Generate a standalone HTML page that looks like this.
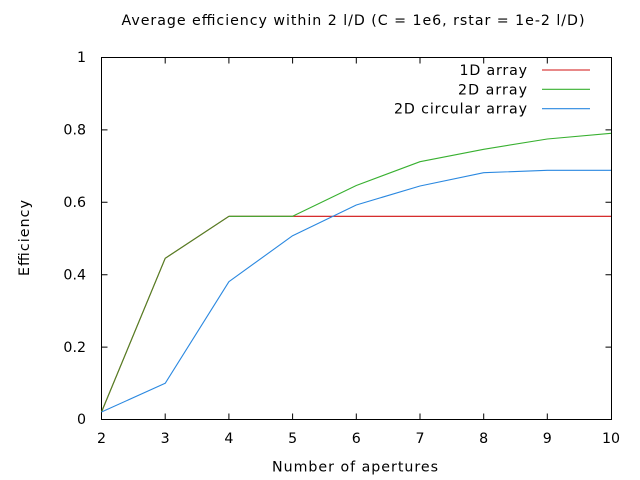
<!DOCTYPE html>
<html><head><meta charset="utf-8"><style>
html,body{margin:0;padding:0;background:#fff;}
svg{display:block;}
text{font-family:"DejaVu Sans","Liberation Sans",sans-serif;font-size:14.2px;fill:#000;}
</style></head><body>
<svg width="640" height="480" viewBox="0 0 640 480" xmlns="http://www.w3.org/2000/svg">
<rect width="640" height="480" fill="#fff"/>
<text x="353" y="25" text-anchor="middle" textLength="463" lengthAdjust="spacing">Average efficiency within 2 l/D (C = 1e6, rstar = 1e-2 l/D)</text>
<g stroke="#000" stroke-width="1" fill="none">
<rect x="101.5" y="57.5" width="510" height="362"/>
<path d="M101.5 419.5h6M611.5 419.5h-6M101.5 347.1h6M611.5 347.1h-6M101.5 274.7h6M611.5 274.7h-6M101.5 202.3h6M611.5 202.3h-6M101.5 129.9h6M611.5 129.9h-6M101.5 57.5h6M611.5 57.5h-6"/>
<path d="M165.2 419.5v-6M165.2 57.5v6M228.9 419.5v-6M228.9 57.5v6M292.6 419.5v-6M292.6 57.5v6M356.3 419.5v-6M356.3 57.5v6M420 419.5v-6M420 57.5v6M483.7 419.5v-6M483.7 57.5v6M547.3 419.5v-6M547.3 57.5v6"/>
</g>
<g text-anchor="end">
<text x="86" y="424">0</text>
<text x="86" y="352">0.2</text>
<text x="86" y="279.5">0.4</text>
<text x="86" y="207">0.6</text>
<text x="86" y="134.5">0.8</text>
<text x="86" y="62">1</text>
</g>
<g text-anchor="middle">
<text x="101.5" y="443">2</text>
<text x="165.2" y="443">3</text>
<text x="228.9" y="443">4</text>
<text x="292.6" y="443">5</text>
<text x="356.3" y="443">6</text>
<text x="420" y="443">7</text>
<text x="483.7" y="443">8</text>
<text x="547.3" y="443">9</text>
<text x="611" y="443">10</text>
</g>
<text x="355" y="471.5" text-anchor="middle" textLength="166" lengthAdjust="spacing">Number of apertures</text>
<text transform="translate(29,238) rotate(-90)" text-anchor="middle" textLength="76" lengthAdjust="spacing">Efficiency</text>
<g text-anchor="end">
<text x="527" y="75" textLength="67.5" lengthAdjust="spacing">1D array</text>
<text x="527" y="94.3" textLength="69" lengthAdjust="spacing">2D array</text>
<text x="527" y="113.7" textLength="133" lengthAdjust="spacing">2D circular array</text>
</g>
<g fill="none" stroke-width="1.1" stroke-linejoin="round">
<line x1="542" y1="70" x2="590" y2="70" stroke="#d01010"/>
<line x1="542" y1="89.3" x2="590" y2="89.3" stroke="#38b030"/>
<line x1="542" y1="108.7" x2="590" y2="108.7" stroke="#2a88e0"/>
<polyline stroke="#d01010" points="101.5,412 165.2,258.3 228.9,216.3 292.6,216.3 356.3,216.3 420,216.3 483.7,216.3 547.3,216.3 611,216.3"/>
<polyline stroke="#38b030" points="228.9,216.3 292.6,216.3 356.3,185.5 420,161.7 483.7,149.3 547.3,139 611,133.3"/>
<polyline stroke="#4a8a28" points="101.5,412 165.2,258.3 228.9,216.3"/>
<polyline stroke="#2a88e0" points="101.5,412 165.2,383.3 228.9,281.7 292.6,235.7 356.3,205 420,186 483.7,172.7 547.3,170.3 611,170.3"/>
</g>
</svg>
</body></html>
